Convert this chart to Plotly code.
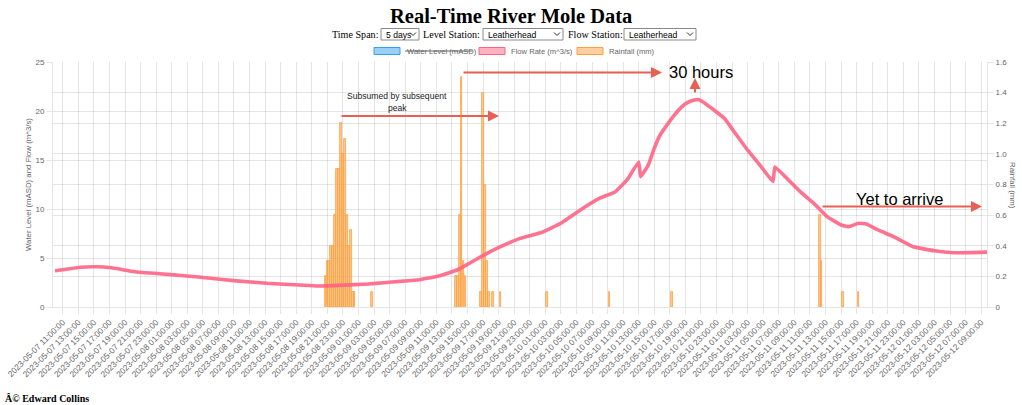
import plotly.graph_objects as go

# ---------------- data ----------------
flow_times = [
    "2023-05-07 10:00", "2023-05-07 11:30", "2023-05-07 13:15", "2023-05-07 15:15",
    "2023-05-07 17:15", "2023-05-07 20:15", "2023-05-08 00:30", "2023-05-08 04:45",
    "2023-05-08 09:00", "2023-05-08 13:15", "2023-05-08 17:30", "2023-05-08 19:45",
    "2023-05-08 21:45", "2023-05-09 02:15", "2023-05-09 04:15", "2023-05-09 08:30",
    "2023-05-09 11:30", "2023-05-09 13:45", "2023-05-09 15:00", "2023-05-09 16:45",
    "2023-05-09 19:15", "2023-05-09 21:45", "2023-05-10 00:30", "2023-05-10 03:00",
    "2023-05-10 05:30", "2023-05-10 08:00", "2023-05-10 10:00", "2023-05-10 11:30",
    "2023-05-10 13:00", "2023-05-10 13:15", "2023-05-10 14:15", "2023-05-10 15:00",
    "2023-05-10 15:45", "2023-05-10 17:15", "2023-05-10 18:30", "2023-05-10 19:15",
    "2023-05-10 20:00", "2023-05-10 20:45", "2023-05-10 21:30", "2023-05-10 22:30",
    "2023-05-11 00:00", "2023-05-11 01:15", "2023-05-11 03:00", "2023-05-11 04:45",
    "2023-05-11 06:15", "2023-05-11 06:30", "2023-05-11 08:15", "2023-05-11 09:45",
    "2023-05-11 11:30", "2023-05-11 13:15", "2023-05-11 15:00", "2023-05-11 16:00",
    "2023-05-11 17:15", "2023-05-11 18:15", "2023-05-11 19:45", "2023-05-11 21:45",
    "2023-05-12 00:15", "2023-05-12 03:00", "2023-05-12 05:30", "2023-05-12 07:45",
    "2023-05-12 09:45",
]
flow_values = [
    3.70, 3.85, 4.05, 4.10,
    4.00, 3.60, 3.33, 3.03,
    2.69, 2.42, 2.24, 2.14,
    2.18, 2.35, 2.48, 2.75,
    3.20, 3.80, 4.35, 5.14,
    6.15, 7.00, 7.60, 8.54,
    9.90, 11.10, 11.77, 12.96,
    14.80, 13.30, 14.50, 16.20,
    17.55, 19.25, 20.40, 20.85,
    21.10, 21.15, 20.80, 20.20,
    19.25, 17.90, 16.00, 14.30,
    12.80, 14.30, 12.96, 11.77,
    10.58, 9.20, 8.37, 8.20,
    8.54, 8.47, 7.86, 7.18,
    6.15, 5.74, 5.54, 5.55,
    5.60,
]

rain_times = [
    "2023-05-08 20:45", "2023-05-08 21:00", "2023-05-08 21:15", "2023-05-08 21:30",
    "2023-05-08 21:45", "2023-05-08 22:00", "2023-05-08 22:15", "2023-05-08 22:30",
    "2023-05-08 22:45", "2023-05-08 23:00", "2023-05-08 23:15", "2023-05-08 23:30",
    "2023-05-08 23:45", "2023-05-09 00:00", "2023-05-09 00:15", "2023-05-09 00:30",
    "2023-05-09 02:45",
    "2023-05-09 13:30", "2023-05-09 13:45", "2023-05-09 14:00", "2023-05-09 14:15",
    "2023-05-09 14:30", "2023-05-09 14:45",
    "2023-05-09 16:45", "2023-05-09 17:00", "2023-05-09 17:15", "2023-05-09 17:30",
    "2023-05-09 17:45", "2023-05-09 18:15", "2023-05-09 19:15",
    "2023-05-10 01:15", "2023-05-10 09:15", "2023-05-10 17:15",
    "2023-05-11 12:15", "2023-05-11 12:30", "2023-05-11 15:15", "2023-05-11 17:15",
]
rain_values = [
    0.2, 0.3, 0.3, 0.4,
    0.4, 0.6, 0.9, 0.9,
    1.2, 1.0, 1.1, 0.6,
    0.4, 0.5, 0.1, 0.1,
    0.1,
    0.2, 0.2, 0.6, 1.5,
    0.3, 0.2,
    0.1, 1.4, 0.8, 0.3,
    0.1, 0.1, 0.1,
    0.1, 0.1, 0.1,
    0.6, 0.3, 0.1, 0.1,
]

x_range = ["2023-05-07 09:45", "2023-05-12 09:45"]
left_ticks = [0, 5, 10, 15, 20, 25]
right_ticks = [0, 0.2, 0.4, 0.6, 0.8, 1.0, 1.2, 1.4, 1.6]
right_tick_text = ["0", "0.2", "0.4", "0.6", "0.8", "1.0", "1.2", "1.4", "1.6"]

title_text = "Real-Time River Mole Data"
legend_labels = ["Water Level (mASD)", "Flow Rate (m^3/s)", "Rainfall (mm)"]
left_title = "Water Level (mASD) and Flow (m^3/s)"
right_title = "Rainfall (mm)"

# ---------------- styling ----------------
W, H = 1022, 405
PL, PR, PT, PB = 53, 987, 62, 307
GRID = "rgba(0,0,0,0.1)"
TXT = "#666666"
SANS = "Liberation Sans, Arial, Helvetica, sans-serif"
SERIF = "Liberation Serif, Times New Roman, serif"
PINK = "rgb(255,99,132)"
ORANGE = "rgb(255,159,64)"
BLUE = "rgb(54,162,235)"
ARROW = "rgb(230,96,84)"


def fx(px):
    return (px - PL) / (PR - PL)


def fy(py):
    return (PB - py) / (PB - PT)


fig = go.Figure()

fig.add_trace(go.Bar(
    x=rain_times, y=rain_values, name="Rainfall (mm)", yaxis="y",
    width=780000,
    marker=dict(color="rgba(255,159,64,0.55)", line=dict(color=ORANGE, width=0.8)),
    showlegend=False,
))
fig.add_trace(go.Scatter(
    x=flow_times, y=flow_values, name="Flow Rate (m^3/s)", yaxis="y2",
    mode="lines", line=dict(color="rgba(255,99,132,0.9)", width=3.6, shape="spline", smoothing=0.3),
    showlegend=False,
))

shapes = []
annotations = []


def label(txt, px, py, size=11.5, fam=SERIF, color="black", anchor="left", angle=0):
    annotations.append(dict(text=txt, x=fx(px), y=fy(py), xref="paper", yref="paper", showarrow=False,
                            font=dict(family=fam, size=size, color=color), xanchor=anchor, yanchor="middle",
                            textangle=angle))


# title
label("<b>%s</b>" % title_text, 511, 16, size=20.5, fam=SERIF, anchor="center")


def select(x0, x1, txt):
    shapes.append(dict(type="rect", xref="paper", yref="paper", x0=fx(x0), x1=fx(x1), y0=fy(40), y1=fy(28.5),
                       line=dict(color="#8a8a8a", width=1), fillcolor="white", layer="above"))
    label(txt, x0 + 3, 34.5, size=8.6, fam=SANS, color="black")
    cx = x1 - 6
    path = "M %f,%f L %f,%f L %f,%f" % (fx(cx - 3), fy(32.5), fx(cx), fy(35.5), fx(cx + 3), fy(32.5))
    shapes.append(dict(type="path", xref="paper", yref="paper", path=path,
                       line=dict(color="#333", width=1), layer="above"))


label("Time Span:", 330, 34.5, size=10.1)
select(381, 419, "5 days")
label("Level Station:", 421, 34.5, size=10.1)
select(483, 563, "Leatherhead")
label("Flow Station:", 566, 34.5, size=10.1)
select(624, 696, "Leatherhead")

# legend
legend_items = [
    (374, 405, legend_labels[0], "rgba(54,162,235,0.5)", BLUE, True),
    (479, 509, legend_labels[1], "rgba(255,99,132,0.5)", PINK, False),
    (577, 607, legend_labels[2], "rgba(255,159,64,0.5)", ORANGE, False),
]
for bx, tx, txt, fill, edge, struck in legend_items:
    shapes.append(dict(type="rect", xref="paper", yref="paper", x0=fx(bx), x1=fx(bx + 26),
                       y0=fy(54.5), y1=fy(47.5), fillcolor=fill, line=dict(color=edge, width=1), layer="above"))
    label(txt, tx, 51.2, size=7.6, fam=SANS, color=TXT)
    if struck:
        shapes.append(dict(type="line", xref="paper", yref="paper", x0=fx(tx), x1=fx(tx + 67.5),
                           y0=fy(51), y1=fy(51), line=dict(color=TXT, width=1), layer="above"))

# axis titles
label(left_title, 28, 185, size=7.8, fam=SANS, color=TXT, anchor="center", angle=-90)
label(right_title, 1013, 185, size=7.8, fam=SANS, color=TXT, anchor="center", angle=90)

# footer
label("<b>Â© Edward Collins</b>", 3, 398, size=10, fam=SERIF, color="black")


def arrow(x_tip, y_tip, x_tail, y_tail):
    annotations.append(dict(x=fx(x_tip), y=fy(y_tip), xref="paper", yref="paper",
                            ax=x_tail - x_tip, ay=y_tail - y_tip, axref="pixel", ayref="pixel",
                            text="", showarrow=True, arrowhead=2, arrowsize=1.1, arrowwidth=2,
                            arrowcolor=ARROW))


label("Subsumed by subsequent", 397, 96, size=8.6, fam=SANS, color="#222", anchor="center")
label("peak", 397, 108, size=8.6, fam=SANS, color="#222", anchor="center")
arrow(499, 116, 340, 116)
arrow(662, 72.5, 462, 72.5)
label("30 hours", 667, 72, size=16.5, fam=SANS, color="black")
arrow(695, 78, 695, 94)
label("Yet to arrive", 854, 199, size=16.5, fam=SANS, color="black")
arrow(982, 206.5, 821, 206.5)

axis_font = dict(family=SANS, size=8, color=TXT)

fig.update_layout(
    width=W, height=H, autosize=False,
    margin=dict(l=PL, r=W - PR, t=PT, b=H - PB, pad=0),
    paper_bgcolor="white", plot_bgcolor="white",
    bargap=0, barmode="overlay",
    shapes=shapes, annotations=annotations,
    xaxis=dict(type="date", range=x_range, tick0="2023-05-07 11:00", dtick=7200000, automargin=False,
               tickformat="%Y-%m-%d %H:%M:%S", tickangle=-45, tickfont=dict(family=SANS, size=8.4, color=TXT),
               showgrid=True, gridcolor=GRID, gridwidth=1, ticks="outside", ticklen=6, tickcolor=GRID,
               showline=True, linecolor=GRID, zeroline=False, fixedrange=True),
    yaxis=dict(side="right", range=[0, 1.6], tickvals=right_ticks, ticktext=right_tick_text, automargin=False,
               tickfont=axis_font, showgrid=True, gridcolor=GRID, ticks="outside", ticklen=6, tickcolor=GRID,
               showline=True, linecolor=GRID, zeroline=False),
    yaxis2=dict(side="left", overlaying="y", range=[0, 25], tickvals=left_ticks, automargin=False,
                tickfont=axis_font, showgrid=True, gridcolor=GRID, ticks="outside", ticklen=6, tickcolor=GRID,
                showline=True, linecolor=GRID, zeroline=False),
)

fig.write_html("out.html", config={"displayModeBar": False},
               post_script="document.body.style.margin='0';document.body.style.overflow='hidden';")
